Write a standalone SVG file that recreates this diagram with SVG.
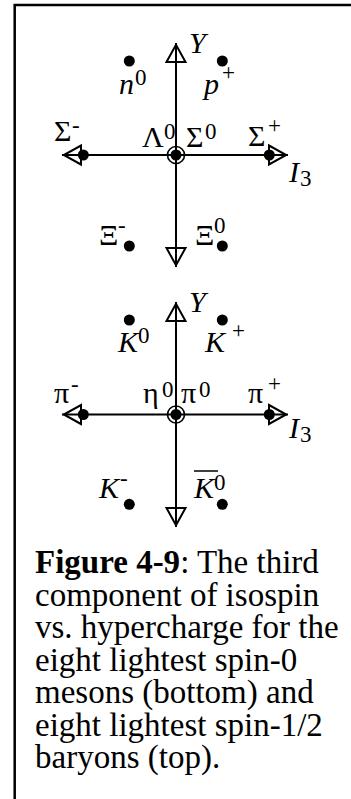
<svg xmlns="http://www.w3.org/2000/svg" width="351" height="799" viewBox="0 0 351 799">
<style>
.lbl{font-family:"Liberation Serif","Times New Roman",serif;font-size:30px;fill:#000}
.it{font-style:italic}
.sup{font-size:23px;font-style:normal}
.cap{font-family:"Liberation Serif","Times New Roman",serif;font-size:33px;fill:#000}
.b{font-weight:bold}
.axis{stroke:#000;stroke-width:2;fill:none;marker-start:url(#ah);marker-end:url(#ah)}
.dot{fill:#000}
.ring{fill:none;stroke:#000;stroke-width:1.6}
.frame{stroke:#000;stroke-width:2.5;fill:none}
</style>
<defs>
<marker id="ah" markerUnits="userSpaceOnUse" markerWidth="24" markerHeight="24" refX="0" refY="0" orient="auto-start-reverse" overflow="visible">
<path d="M-19,-9.5 L-1.8,0 L-19,9.5 Z" fill="none" stroke="#000" stroke-width="2"/>
</marker>
</defs>
<rect width="351" height="799" fill="#fff"/>
<path class="frame" d="M14.7,799 V5 H351"/>

<g id="connectors">
<line class="axis" x1="176" y1="267" x2="176" y2="43"/>
<line class="axis" x1="62" y1="155" x2="288" y2="155"/>
<line class="axis" x1="176" y1="527" x2="176" y2="302"/>
<line class="axis" x1="62" y1="414.5" x2="288" y2="414.5"/>
</g>

<g id="baryons">
<g id="axisY-top"><text class="lbl it" x="189" y="53">Y</text></g>
<g id="axisI3-top"><text class="lbl it" x="289" y="182">I</text><text class="lbl sup" x="300" y="186">3</text></g>
<g id="n0"><circle class="dot" cx="129.3" cy="61" r="5.5"/><text class="lbl it" x="119" y="94">n</text><text class="lbl sup" x="135" y="85">0</text></g>
<g id="p+"><circle class="dot" cx="222.3" cy="61" r="5.5"/><text class="lbl it" x="204" y="94">p</text><text class="lbl sup" x="222" y="80">+</text></g>
<g id="Sigma-"><circle class="dot" cx="83.3" cy="155" r="5.5"/><text class="lbl" x="54" y="141">Σ</text><text class="lbl sup" x="72" y="133">-</text></g>
<g id="Lambda0-Sigma0"><circle class="ring" cx="176" cy="155" r="8.5"/><circle class="dot" cx="176" cy="155" r="5.5"/><text class="lbl" x="142" y="147">Λ</text><text class="lbl sup" x="164" y="139">0</text><text class="lbl" x="186" y="147">Σ</text><text class="lbl sup" x="205" y="139">0</text></g>
<g id="Sigma+"><circle class="dot" cx="269.3" cy="155" r="5.5"/><text class="lbl" x="248" y="146">Σ</text><text class="lbl sup" x="268" y="133">+</text></g>
<g id="Xi-"><circle class="dot" cx="129.3" cy="246" r="5.5"/><text class="lbl" x="99" y="245">Ξ</text><text class="lbl sup" x="118" y="233">-</text></g>
<g id="Xi0"><circle class="dot" cx="222.3" cy="246" r="5.5"/><text class="lbl" x="195" y="245">Ξ</text><text class="lbl sup" x="214" y="233">0</text></g>
</g>

<g id="mesons">
<g id="axisY-bottom"><text class="lbl it" x="189" y="312">Y</text></g>
<g id="axisI3-bottom"><text class="lbl it" x="289" y="438">I</text><text class="lbl sup" x="300" y="442">3</text></g>
<g id="K0"><circle class="dot" cx="129.3" cy="320" r="5.5"/><text class="lbl it" x="118" y="352">K</text><text class="lbl sup" x="138" y="343">0</text></g>
<g id="K+"><circle class="dot" cx="222.3" cy="320" r="5.5"/><text class="lbl it" x="205" y="352">K</text><text class="lbl sup" x="232" y="338">+</text></g>
<g id="pi-"><circle class="dot" cx="83.3" cy="414.5" r="5.5"/><text class="lbl" x="54" y="403">π</text><text class="lbl sup" x="71" y="392">-</text></g>
<g id="eta0-pi0"><circle class="ring" cx="176" cy="414.5" r="8.5"/><circle class="dot" cx="176" cy="414.5" r="5.5"/><text class="lbl" x="143" y="403">η</text><text class="lbl sup" x="162" y="397">0</text><text class="lbl" x="181" y="403">π</text><text class="lbl sup" x="199" y="397">0</text></g>
<g id="pi+"><circle class="dot" cx="269.3" cy="414.5" r="5.5"/><text class="lbl" x="248" y="403">π</text><text class="lbl sup" x="268" y="391">+</text></g>
<g id="K-"><circle class="dot" cx="129.3" cy="504.3" r="5.5"/><text class="lbl it" x="99" y="498">K</text><text class="lbl sup" x="120" y="486">-</text></g>
<g id="K0bar"><circle class="dot" cx="222.3" cy="504.3" r="5.5"/><text class="lbl it" x="194" y="498">K</text><line x1="194" y1="471" x2="218" y2="471" stroke="#000" stroke-width="1.5"/><text class="lbl sup" x="214" y="490">0</text></g>
</g>

<g id="caption">
<text class="cap" x="35" y="573"><tspan class="b">Figure 4-9</tspan>: The third</text>
<text class="cap" x="35" y="606">component of isospin</text>
<text class="cap" x="35" y="638">vs. hypercharge for the</text>
<text class="cap" x="35" y="671">eight lightest spin-0</text>
<text class="cap" x="35" y="703">mesons (bottom) and</text>
<text class="cap" x="35" y="736">eight lightest spin-1/2</text>
<text class="cap" x="35" y="768">baryons (top).</text>
</g>
</svg>
